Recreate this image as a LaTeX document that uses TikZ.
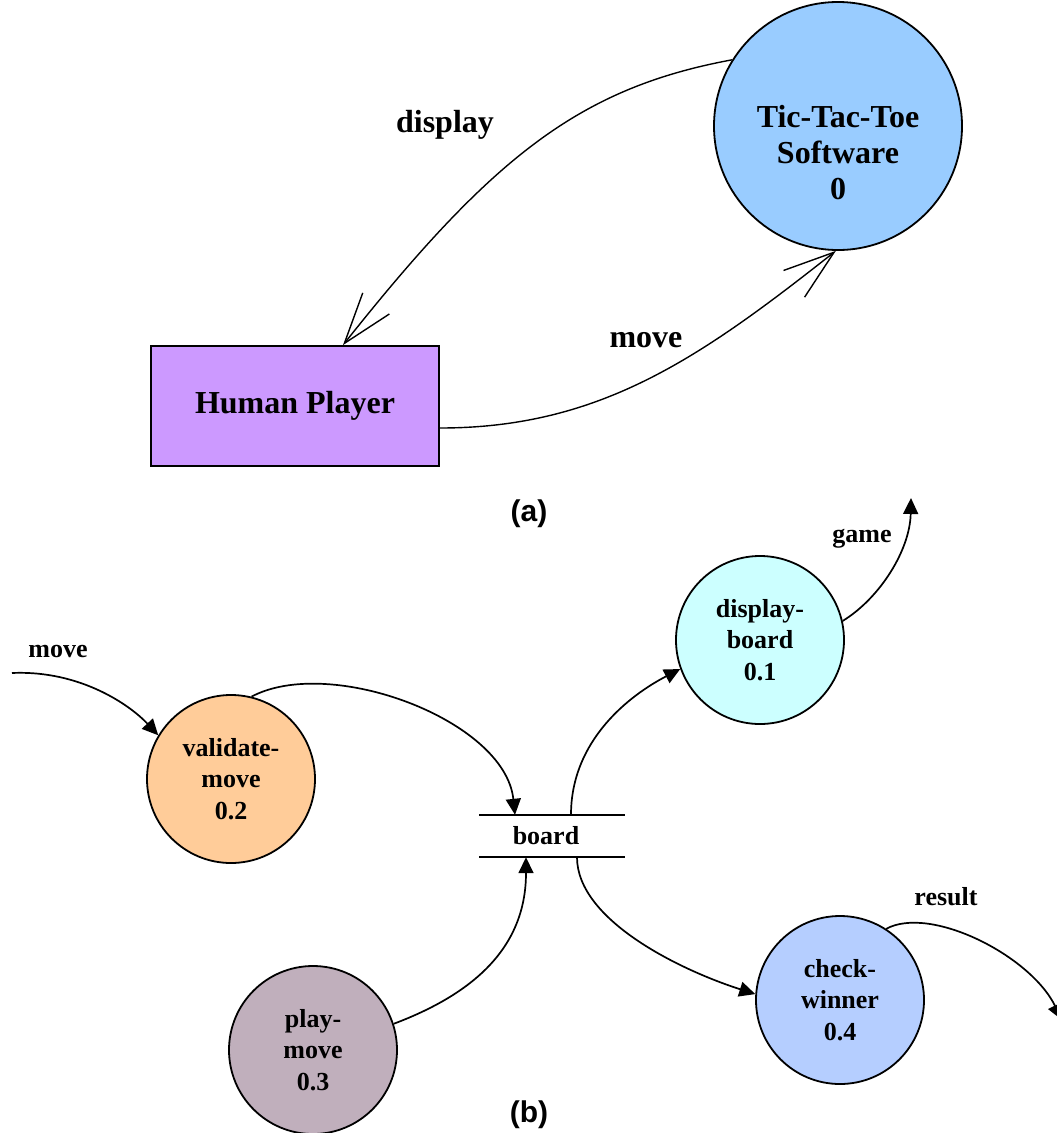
\documentclass[tikz,border=0pt]{standalone}
\usepackage{fontspec}
\setmainfont{Liberation Serif}
\newfontfamily\arialfont{Liberation Sans}
\usetikzlibrary{arrows.meta}
\definecolor{cTTT}{HTML}{99CCFF}
\definecolor{cHP}{HTML}{CC99FF}
\definecolor{cVal}{HTML}{FFCC99}
\definecolor{cDisp}{HTML}{CCFFFF}
\definecolor{cPlay}{HTML}{C0AFBC}
\definecolor{cCheck}{HTML}{B5CEFF}
\begin{document}
\begin{tikzpicture}[x=1pt,y=-1pt,
  bigproc/.style={circle,draw,line width=1.8pt,minimum size=248pt,inner sep=0pt},
  proc/.style={circle,draw,line width=1.8pt,minimum size=168pt,inner sep=0pt,align=center,font=\fontsize{26}{31.5}\selectfont\bfseries},
  toplabel/.style={font=\fontsize{32}{36}\selectfont\bfseries},
  botlabel/.style={font=\fontsize{26}{31.5}\selectfont\bfseries},
  captionlbl/.style={font=\arialfont\fontsize{30}{34}\selectfont\bfseries},
  openflow/.style={line width=1.4pt,-{Straight Barb[length=51pt,width=34pt]}},
  flow/.style={line width=1.7pt,-{Triangle[length=16pt,width=15pt]}},
]
\useasboundingbox (0,0) rectangle (1057,1133);

% ---------- (a) ----------
\node[bigproc,fill=cTTT] (ttt) at (838,126) {};
\node[toplabel,align=center] (ttttext) at (838,153) {Tic-Tac-Toe\\Software\\0};
\node[draw,line width=1.8pt,fill=cHP,minimum width=288pt,minimum height=120pt,inner sep=0pt,toplabel] (hp) at (295,406) {Human Player};

\draw[openflow] (ttt.148) .. controls (580,88) and (493,156) .. ([xshift=48pt]hp.north);
\draw[openflow] ([yshift=-22pt]hp.east) .. controls (600,428) and (700,358) .. (ttt.-91);

\node[toplabel] (lbldisplay) at (445,125) {display};
\node[toplabel] (lblmove) at (646,340) {move};
\node[captionlbl] (capa) at (529,514) {(a)};

% ---------- (b) ----------
\node[proc,fill=cVal] (va) at (231,779) {validate-\\move\\0.2};
\node[proc,fill=cDisp] (db) at (760,640) {display-\\board\\0.1};
\node[proc,fill=cPlay] (pm) at (313,1050) {play-\\move\\0.3};
\node[proc,fill=cCheck] (cw) at (840,1000) {check-\\winner\\0.4};
\node[botlabel,minimum width=145pt,minimum height=42pt,inner sep=0pt] (board) at (552,836) {board\kern12pt\relax};
\draw[line width=1.7pt] (board.north west) -- (board.north east) (board.south west) -- (board.south east);

\coordinate (movein) at (12,673);
\coordinate (gameout) at (911,498);
\coordinate (resultout) at (1062,1020);

\draw[flow] (movein) .. controls (80,670) and (130,705) .. (va.149);
\draw[flow] (va.76) .. controls (330,655) and (505,720) .. ([xshift=-37pt]board.north);
\draw[flow] ([xshift=19pt]board.north) .. controls (571,740) and (630,695) .. (db.200);
\draw[flow] (db.13) .. controls (880,598) and (910,550) .. (gameout);
\draw[flow] (pm.18) .. controls (470,995) and (526,950) .. ([xshift=-26pt]board.south);
\draw[flow] ([xshift=25pt]board.south) .. controls (577,920) and (680,970) .. (cw.176);
\draw[flow] (cw.57) .. controls (930,905) and (1030,955) .. (resultout);

\node[botlabel] (lblmovein) at (58,651) {move};
\node[botlabel] (lblgame) at (862,539) {game};
\node[botlabel] (lblresult) at (946,897) {result};
\node[captionlbl] (capb) at (529,1115) {(b)};
\end{tikzpicture}
\end{document}
